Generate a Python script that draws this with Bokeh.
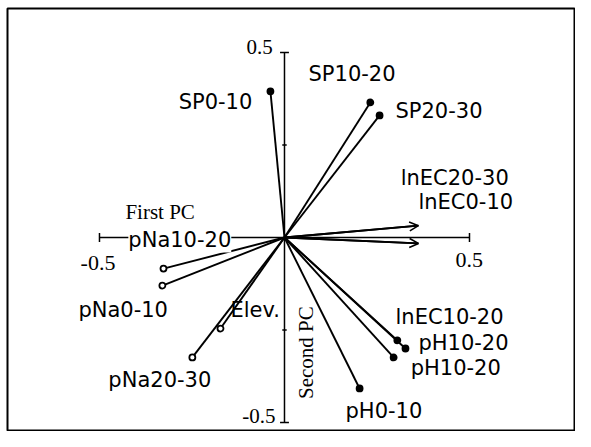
from bokeh.plotting import figure
from bokeh.models import ColumnDataSource, Arrow, OpenHead, Label
from bokeh.core.properties import value
from bokeh.embed import file_html
from bokeh.resources import INLINE
import math

# ---- data: loadings on first and second principal components ----
var_names = ["SP0-10", "SP10-20", "SP20-30", "lnEC20-30", "lnEC0-10",
             "lnEC10-20", "pH10-20", "pH10-20", "pH0-10",
             "pNa10-20", "pNa0-10", "Elev.", "pNa20-30"]
pc1 = [-0.038, 0.232, 0.257, 0.362, 0.362, 0.305, 0.327, 0.295, 0.203,
       -0.327, -0.330, -0.173, -0.249]
pc2 = [0.395, 0.365, 0.330, 0.032, -0.016, -0.278, -0.300, -0.324, -0.408,
       -0.084, -0.130, -0.246, -0.324]
arrow_vars = ["lnEC20-30", "lnEC0-10"]
axis_ticks = [-0.5, -0.25, 0.25, 0.5]
tick_labels = ["-0.5", "0.5"]

# ---- layout (label anchors, in chart units) ----
lab_x = [-0.286, 0.065, 0.300, 0.314, 0.362, 0.300, 0.362, 0.341, 0.165,
         -0.422, -0.557, -0.146, -0.476]
lab_y = [0.365, 0.441, 0.343, 0.162, 0.095, -0.214, -0.284, -0.354, -0.468,
         -0.008, -0.195, -0.195, -0.386]
dot_fill = ["black", "black", "black", None, None, "black", "black", "black",
            "black", "white", "white", "white", "white"]

p = figure(width=575, height=431, x_range=(-0.7486, 0.7865),
           y_range=(-0.5243, 0.6189), output_backend="svg",
           toolbar_location=None, min_border=0,
           min_border_left=7, min_border_top=8)
p.xaxis.visible = False
p.yaxis.visible = False
p.xgrid.visible = False
p.ygrid.visible = False
p.outline_line_color = "black"
p.outline_line_width = 2
p.background_fill_color = "white"
p.border_fill_color = "white"

LW = 1.9
# axes drawn as a cross
p.segment(x0=[0, -0.5], y0=[-0.5, 0], x1=[0, 0.5], y1=[0.5, 0],
          line_color="black", line_width=1.5)
cap = 0.012
small = 0.006
for t in axis_ticks:
    w = cap if abs(t) == 0.5 else small
    p.segment(x0=[-w], y0=[t], x1=[w], y1=[t], line_color="black", line_width=1.5)
for t in [-0.5, 0.5]:
    p.segment(x0=[t], y0=[-cap], x1=[t], y1=[cap], line_color="black", line_width=1.5)

# vectors
n = len(var_names)
src = ColumnDataSource(dict(x0=[0.0] * n, y0=[0.0] * n, x1=pc1, y1=pc2))
p.segment(x0="x0", y0="y0", x1="x1", y1="y1", source=src,
          line_color="black", line_width=LW)

# arrowheads
ai = [var_names.index(v) for v in arrow_vars]
asrc = ColumnDataSource(dict(x0=[0.0] * len(ai), y0=[0.0] * len(ai),
                             x1=[pc1[i] for i in ai], y1=[pc2[i] for i in ai]))
p.add_layout(Arrow(end=OpenHead(size=9, line_width=1.6, line_color="black"),
                   x_start="x0", y_start="y0", x_end="x1", y_end="y1",
                   source=asrc, line_width=LW, line_color="black"))

# end dots
di = [i for i in range(n) if dot_fill[i] is not None]
dsrc = ColumnDataSource(dict(x=[pc1[i] for i in di], y=[pc2[i] for i in di],
                             f=[dot_fill[i] for i in di]))
p.scatter(x="x", y="y", source=dsrc, size=6, fill_color="f",
          line_color="black", line_width=1.8)

# variable labels
li = [i for i in range(n) if var_names[i] != "pNa10-20"]
lsrc = ColumnDataSource(dict(x=[lab_x[i] for i in li], y=[lab_y[i] for i in li],
                             t=[var_names[i] for i in li]))
p.text(x="x", y="y", text="t", source=lsrc, text_font=value("DejaVu Sans"),
       text_font_size="21px", text_align="left", text_baseline="middle",
       text_color="black")
k = var_names.index("pNa10-20")
p.add_layout(Label(x=lab_x[k], y=lab_y[k], text=var_names[k],
                   text_font="DejaVu Sans", text_font_size="21px",
                   text_align="left", text_baseline="middle",
                   background_fill_color="white", text_color="black"))

# tick value labels
tsrc = ColumnDataSource(dict(x=[-0.032, -0.024], y=[0.514, -0.482],
                             t=[tick_labels[1], tick_labels[0]]))
p.text(x="x", y="y", text="t", source=tsrc, text_font=value("Liberation Serif"),
       text_font_size="21px", text_align="right", text_baseline="middle")
tsrc2 = ColumnDataSource(dict(x=[-0.551, 0.462], y=[-0.068, -0.062],
                              t=[tick_labels[0], tick_labels[1]]))
p.text(x="x", y="y", text="t", source=tsrc2, text_font=value("Liberation Serif"),
       text_font_size="22px", text_align="left", text_baseline="middle")

# axis titles
p.text(x=[-0.43], y=[0.068], text=["First PC"], text_font=value("Liberation Serif"),
       text_font_size="21px", text_align="left", text_baseline="middle")
p.text(x=[0.057], y=[-0.311], text=["Second PC"], angle=math.pi / 2,
       text_font=value("Liberation Serif"), text_font_size="21px",
       text_align="center", text_baseline="middle")

open("out.html", "w").write(file_html(p, INLINE))
